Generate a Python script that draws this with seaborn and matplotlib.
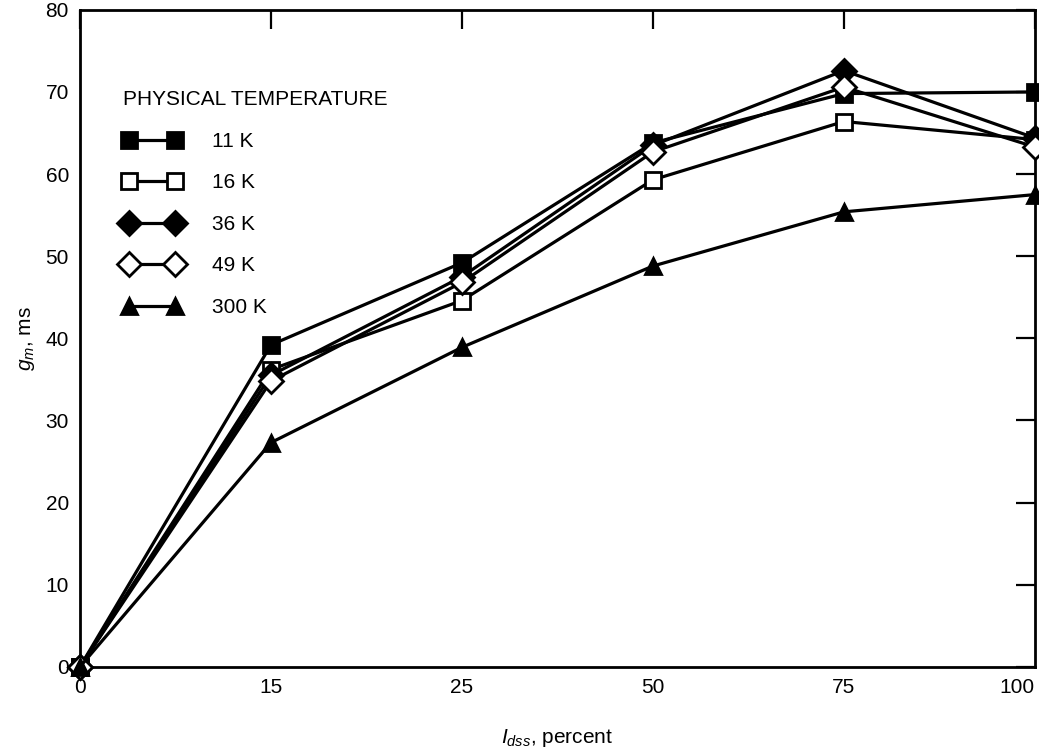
"""g_m vs I_dss at several physical temperatures (re-drawn from a scanned figure)."""

import matplotlib

matplotlib.use("Agg")
import matplotlib.pyplot as plt
import seaborn as sns

# x categories are evenly spaced on the original figure, not proportional
IDSS_LABELS = ["0", "15", "25", "50", "75", "100"]

GM_11K = [0.0, 39.2, 49.2, 63.8, 69.8, 70.0]
GM_16K = [0.0, 36.2, 44.6, 59.3, 66.4, 64.2]
GM_36K = [0.0, 35.5, 47.5, 63.5, 72.6, 64.4]
GM_49K = [0.0, 34.8, 46.8, 62.7, 70.6, 63.3]
GM_300K = [0.0, 27.3, 38.9, 48.8, 55.4, 57.5]

SERIES = [
    ("11 K", GM_11K, "s", "black"),
    ("16 K", GM_16K, "s", "white"),
    ("36 K", GM_36K, "D", "black"),
    ("49 K", GM_49K, "D", "white"),
    ("300 K", GM_300K, "^", "black"),
]


def main() -> None:
    sns.set_theme(style="white")
    plt.rcParams.update(
        {
            "font.family": ["Liberation Sans", "DejaVu Sans"],
            "mathtext.fontset": "custom",
            "mathtext.rm": "Liberation Sans",
            "mathtext.it": "Liberation Sans:italic",
            "text.color": "black",
            "axes.labelcolor": "black",
            "axes.edgecolor": "black",
            "axes.linewidth": 2.0,
        }
    )

    fig = plt.figure(figsize=(10.39, 7.56), dpi=100)
    ax = fig.add_axes([0.077, 0.118, 0.919, 0.869])

    pos = list(range(len(IDSS_LABELS)))
    for label, vals, marker, face in SERIES:
        ms = 12 if marker == "D" else 11
        sns.lineplot(
            x=pos,
            y=vals,
            ax=ax,
            color="black",
            linewidth=2.3,
            marker=marker,
            markersize=ms,
            markerfacecolor=face,
            markeredgecolor="black",
            markeredgewidth=2.0,
            label=label,
            clip_on=False,
            zorder=3,
        )

    ax.set_xlim(0, len(IDSS_LABELS) - 1)
    ax.set_ylim(0, 80)
    ax.set_xticks(pos)
    ax.set_xticklabels(IDSS_LABELS)
    ax.set_yticks(range(0, 81, 10))
    ax.tick_params(
        axis="both",
        direction="in",
        length=14,
        width=1.6,
        colors="black",
        labelsize=15,
        top=True,
        right=True,
        pad=8,
    )
    # last x label sits flush with the right edge, as on the original
    ax.get_xticklabels()[-1].set_horizontalalignment("right")
    ax.set_xlabel("$I_{dss}$, percent", fontsize=15, labelpad=22)
    ax.set_ylabel("$g_m$, ms", fontsize=15, labelpad=6)

    leg = ax.legend(
        title="PHYSICAL TEMPERATURE",
        loc="upper left",
        bbox_to_anchor=(0.036, 0.89),
        frameon=False,
        fontsize=15,
        title_fontsize=15,
        numpoints=2,
        handlelength=2.8,
        handletextpad=1.5,
        labelspacing=1.08,
        alignment="left",
        borderaxespad=0,
    )
    leg.set_zorder(5)

    fig.savefig("out.png", dpi=100)
    plt.close(fig)


if __name__ == "__main__":
    main()
